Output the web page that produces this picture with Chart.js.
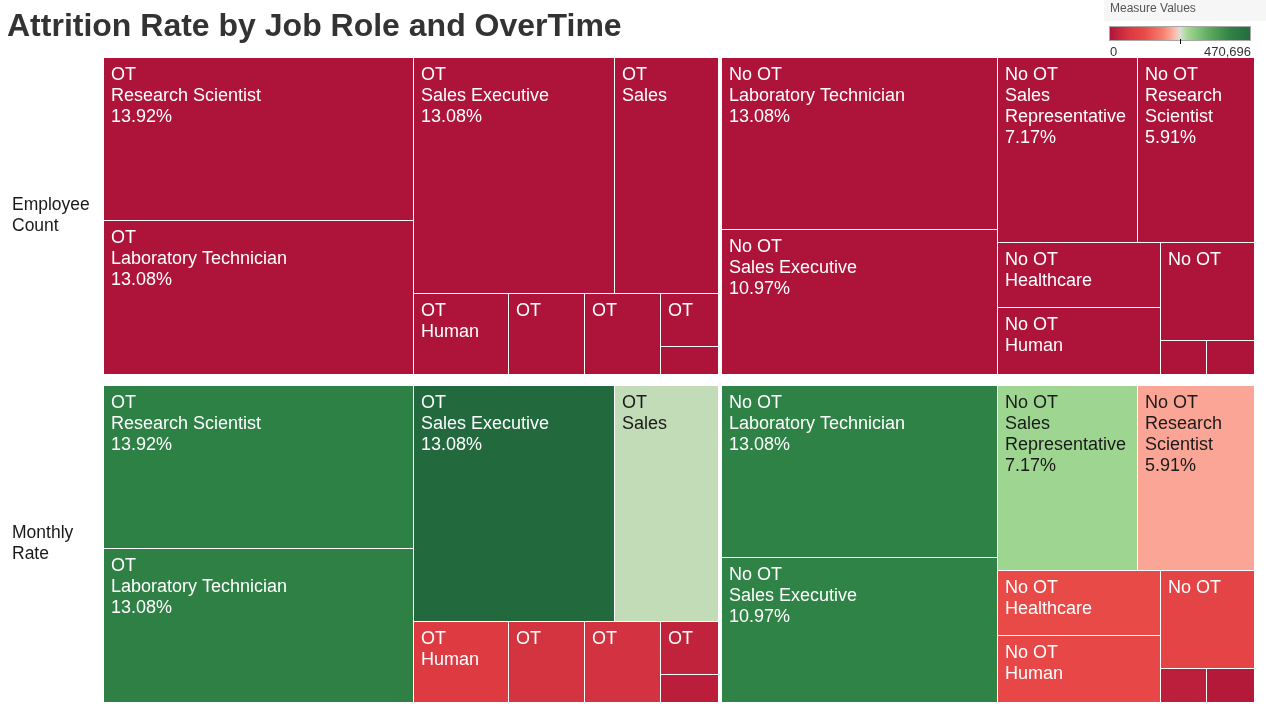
<!DOCTYPE html>
<html>
<head>
<meta charset="utf-8">
<script src="https://cdn.jsdelivr.net/npm/chart.js@4/dist/chart.umd.min.js"></script>
<style>
  html, body { margin: 0; padding: 0; background: #ffffff; }
  #wrap { position: relative; width: 1266px; height: 715px; }
  canvas { display: block; }
</style>
</head>
<body>
<div id="wrap"><canvas id="chart" width="1266" height="715"></canvas></div>
<script>
// ---------------- DATA ----------------
const chartTitle = 'Attrition Rate by Job Role and OverTime';
const legendTitle = 'Measure Values';
const measures = ['Employee Count', 'Monthly Rate'];
const overtimeGroups = ['OT', 'No OT'];
const jobRoles = ['Research Scientist', 'Laboratory Technician', 'Sales Executive', 'Sales Representative',
                  'Human Resources', 'Manufacturing Director', 'Manager', 'Healthcare Representative', 'Research Director'];
// attrition employees per job role (size of each cell, and the "Employee Count" measure)
const attritionOT   = [33, 31, 31, 16, 5, 4, 4, 2, 1];
const attritionNoOT = [14, 31, 26, 17, 7, 6, 1, 7, 1];
// sum of monthly rate per job role ("Monthly Rate" measure, colour only)
const monthlyRateOT   = [409000, 411000, 470696, 247000, 71000, 56000, 57000, 28000, 19000];
const monthlyRateNoOT = [204000, 405000, 402000, 264000, 113000, 99000, 21000, 118000, 9000];
// colour legend range
const colorMin = 0;
const colorMax = 470696;
const legendTickLabels = ['0', '470,696'];

// ---------------- HELPERS ----------------
const FONT = '"Liberation Sans", Arial, Helvetica, sans-serif';
const sizesByGroup = [attritionOT, attritionNoOT];
const measureValues = [
  [attritionOT, attritionNoOT],
  [monthlyRateOT, monthlyRateNoOT]
];
const totalAttrition = attritionOT.reduce((a, b) => a + b, 0) + attritionNoOT.reduce((a, b) => a + b, 0);

const colorStops = [
  [0.00, [174, 20, 57]],
  [0.15, [221, 58, 66]],
  [0.25, [232, 74, 72]],
  [0.38, [247, 128, 110]],
  [0.46, [252, 184, 168]],
  [0.50, [222, 222, 216]],
  [0.55, [163, 217, 149]],
  [0.70, [96, 172, 96]],
  [0.85, [48, 132, 70]],
  [1.00, [34, 106, 62]]
];
function colorFor(v) {
  let t = (v - colorMin) / (colorMax - colorMin);
  t = Math.max(0, Math.min(1, t));
  for (let i = 1; i < colorStops.length; i++) {
    const [t1, c1] = colorStops[i];
    const [t0, c0] = colorStops[i - 1];
    if (t <= t1) {
      const f = (t - t0) / (t1 - t0);
      return c0.map((c, k) => Math.round(c + (c1[k] - c) * f));
    }
  }
  return colorStops[colorStops.length - 1][1];
}
const rgb = c => `rgb(${c[0]},${c[1]},${c[2]})`;

// squarified treemap (golden ratio target)
function squarify(items, x0, y0, x1, y1) {
  const ratio = (1 + Math.sqrt(5)) / 2;
  const out = [];
  let value = items.reduce((s, d) => s + d.value, 0);
  let i0 = 0, i1 = 0;
  const n = items.length;
  while (i0 < n) {
    const dx = x1 - x0, dy = y1 - y0;
    let sumValue = items[i1++].value;
    let minValue = sumValue, maxValue = sumValue;
    const alpha = Math.max(dy / dx, dx / dy) / (value * ratio);
    let beta = sumValue * sumValue * alpha;
    let minRatio = Math.max(maxValue / beta, beta / minValue);
    for (; i1 < n; ++i1) {
      const nv = items[i1].value;
      sumValue += nv;
      if (nv < minValue) minValue = nv;
      if (nv > maxValue) maxValue = nv;
      beta = sumValue * sumValue * alpha;
      const newRatio = Math.max(maxValue / beta, beta / minValue);
      if (newRatio > minRatio) { sumValue -= nv; break; }
      minRatio = newRatio;
    }
    const row = items.slice(i0, i1);
    if (dx < dy) {
      const yb = value ? y0 + dy * sumValue / value : y1;
      let x = x0;
      row.forEach(d => { const w = (x1 - x0) * d.value / sumValue; out.push(Object.assign({}, d, { x0: x, x1: x + w, y0: y0, y1: yb })); x += w; });
      y0 = yb;
    } else {
      const xb = value ? x0 + dx * sumValue / value : x1;
      let y = y0;
      row.forEach(d => { const h = (y1 - y0) * d.value / sumValue; out.push(Object.assign({}, d, { x0: x0, x1: xb, y0: y, y1: y + h })); y += h; });
      x0 = xb;
    }
    value -= sumValue;
    i0 = i1;
  }
  return out;
}

function wrapWords(ctx, text, maxW) {
  const words = text.split(' ');
  const lines = [];
  let cur = '';
  words.forEach(w => {
    const test = cur ? cur + ' ' + w : w;
    if (cur && ctx.measureText(test).width > maxW) { lines.push(cur); cur = w; }
    else cur = test;
  });
  if (cur) lines.push(cur);
  return lines;
}

const GROUP_GAP = 4, ROW_GAP = 12;
const LINE_H = 21, PAD_X = 7, PAD_TOP = 8;

const treemapPlugin = {
  id: 'treemapCells',
  afterDatasetsDraw(chart) {
    const ctx = chart.ctx;
    const xs = chart.scales.x, ys = chart.scales.y;
    ctx.save();
    measures.forEach((m, r) => {
      let top = ys.getPixelForValue(r - 0.5);
      let bottom = ys.getPixelForValue(r + 0.5);
      if (r > 0) top += ROW_GAP / 2;
      if (r < measures.length - 1) bottom -= ROW_GAP / 2;

      // row header (measure name), centred on its pane
      ctx.fillStyle = '#1a1a1a';
      ctx.font = '17.5px ' + FONT;
      ctx.textAlign = 'left';
      ctx.textBaseline = 'middle';
      const headLines = m.split(' ');
      const mid = (top + bottom) / 2;
      headLines.forEach((t, k) => {
        ctx.fillText(t, ys.left, mid + (k - (headLines.length - 1) / 2) * LINE_H);
      });

      let cum = 0;
      overtimeGroups.forEach((g, gi) => {
        const sizes = sizesByGroup[gi];
        const gTotal = sizes.reduce((a, b) => a + b, 0);
        let gx0 = xs.getPixelForValue(cum);
        let gx1 = xs.getPixelForValue(cum + gTotal);
        if (gi > 0) gx0 += GROUP_GAP / 2;
        if (gi < overtimeGroups.length - 1) gx1 -= GROUP_GAP / 2;
        cum += gTotal;
        const items = jobRoles.map((role, i) => ({ role, value: sizes[i], colorValue: measureValues[r][gi][i] }))
          .sort((a, b) => (b.value - a.value) || a.role.localeCompare(b.role));
        const cells = squarify(items, gx0, top, gx1, bottom);
        cells.forEach(c => {
          const X0 = Math.round(c.x0), Y0 = Math.round(c.y0);
          const X1 = Math.round(c.x1) - (c.x1 < gx1 - 0.5 ? 1 : 0);
          const Y1 = Math.round(c.y1) - (c.y1 < bottom - 0.5 ? 1 : 0);
          const col = colorFor(c.colorValue);
          ctx.fillStyle = rgb(col);
          ctx.fillRect(X0, Y0, X1 - X0, Y1 - Y0);
          // label
          const lum = 0.299 * col[0] + 0.587 * col[1] + 0.114 * col[2];
          ctx.fillStyle = lum > 160 ? '#1a1a1a' : '#ffffff';
          ctx.font = '18px ' + FONT;
          ctx.textAlign = 'left';
          ctx.textBaseline = 'alphabetic';
          const w = X1 - X0, h = Y1 - Y0;
          const maxW = w - 16;
          const pct = (c.value / totalAttrition * 100).toFixed(2) + '%';
          const lines = [g].concat(wrapWords(ctx, c.role, maxW), [pct]);
          for (let k = 0; k < lines.length; k++) {
            if ((k + 1) * LINE_H + PAD_TOP > h) break;
            if (ctx.measureText(lines[k]).width > maxW) break;
            ctx.fillText(lines[k], X0 + PAD_X, Y0 + 22 + k * LINE_H);
          }
        });
      });
    });

    // title
    ctx.fillStyle = '#333333';
    ctx.font = 'bold 32px ' + FONT;
    ctx.textAlign = 'left';
    ctx.textBaseline = 'alphabetic';
    ctx.fillText(chartTitle, 7, 36);

    // colour legend
    const lx0 = 1109, lx1 = 1251, ly0 = 26, ly1 = 41;
    ctx.fillStyle = '#f6f6f6';
    ctx.fillRect(1104, 0, 162, 21);
    ctx.fillStyle = '#555555';
    ctx.font = '12px ' + FONT;
    ctx.fillText(legendTitle, 1110, 12);
    const grad = ctx.createLinearGradient(lx0, 0, lx1, 0);
    colorStops.forEach(([t, c]) => grad.addColorStop(t, rgb(c)));
    ctx.fillStyle = grad;
    ctx.fillRect(lx0, ly0, lx1 - lx0, ly1 - ly0);
    ctx.strokeStyle = '#a8a8a8';
    ctx.lineWidth = 1;
    ctx.strokeRect(lx0 + 0.5, ly0 + 0.5, lx1 - lx0 - 1, ly1 - ly0 - 1);
    const midX = Math.round(lx0 + (lx1 - lx0) * 0.5) + 0.5;
    ctx.strokeStyle = '#000000';
    ctx.beginPath();
    ctx.moveTo(midX, ly1 - 2);
    ctx.lineTo(midX, ly1 + 3);
    ctx.stroke();
    ctx.fillStyle = '#333333';
    ctx.font = '13px ' + FONT;
    ctx.textAlign = 'left';
    ctx.fillText(legendTickLabels[0], 1110, 56);
    ctx.textAlign = 'right';
    ctx.fillText(legendTickLabels[1], 1251, 56);
    ctx.restore();
  }
};

new Chart(document.getElementById('chart'), {
  type: 'scatter',
  data: { datasets: [{ data: [] }] },
  options: {
    responsive: false,
    animation: false,
    events: [],
    layout: { padding: { left: 12, right: 12, top: 58, bottom: 13 } },
    plugins: { legend: { display: false }, tooltip: { enabled: false }, title: { display: false } },
    scales: {
      x: { type: 'linear', display: false, min: 0, max: totalAttrition },
      y: {
        type: 'category',
        labels: measures,
        offset: true,
        grid: { display: false, drawTicks: false },
        border: { display: false },
        ticks: { display: false },
        afterFit(scale) { scale.width = 92; scale.paddingTop = 0; scale.paddingBottom = 0; }
      }
    }
  },
  plugins: [treemapPlugin]
});
</script>
</body>
</html>
